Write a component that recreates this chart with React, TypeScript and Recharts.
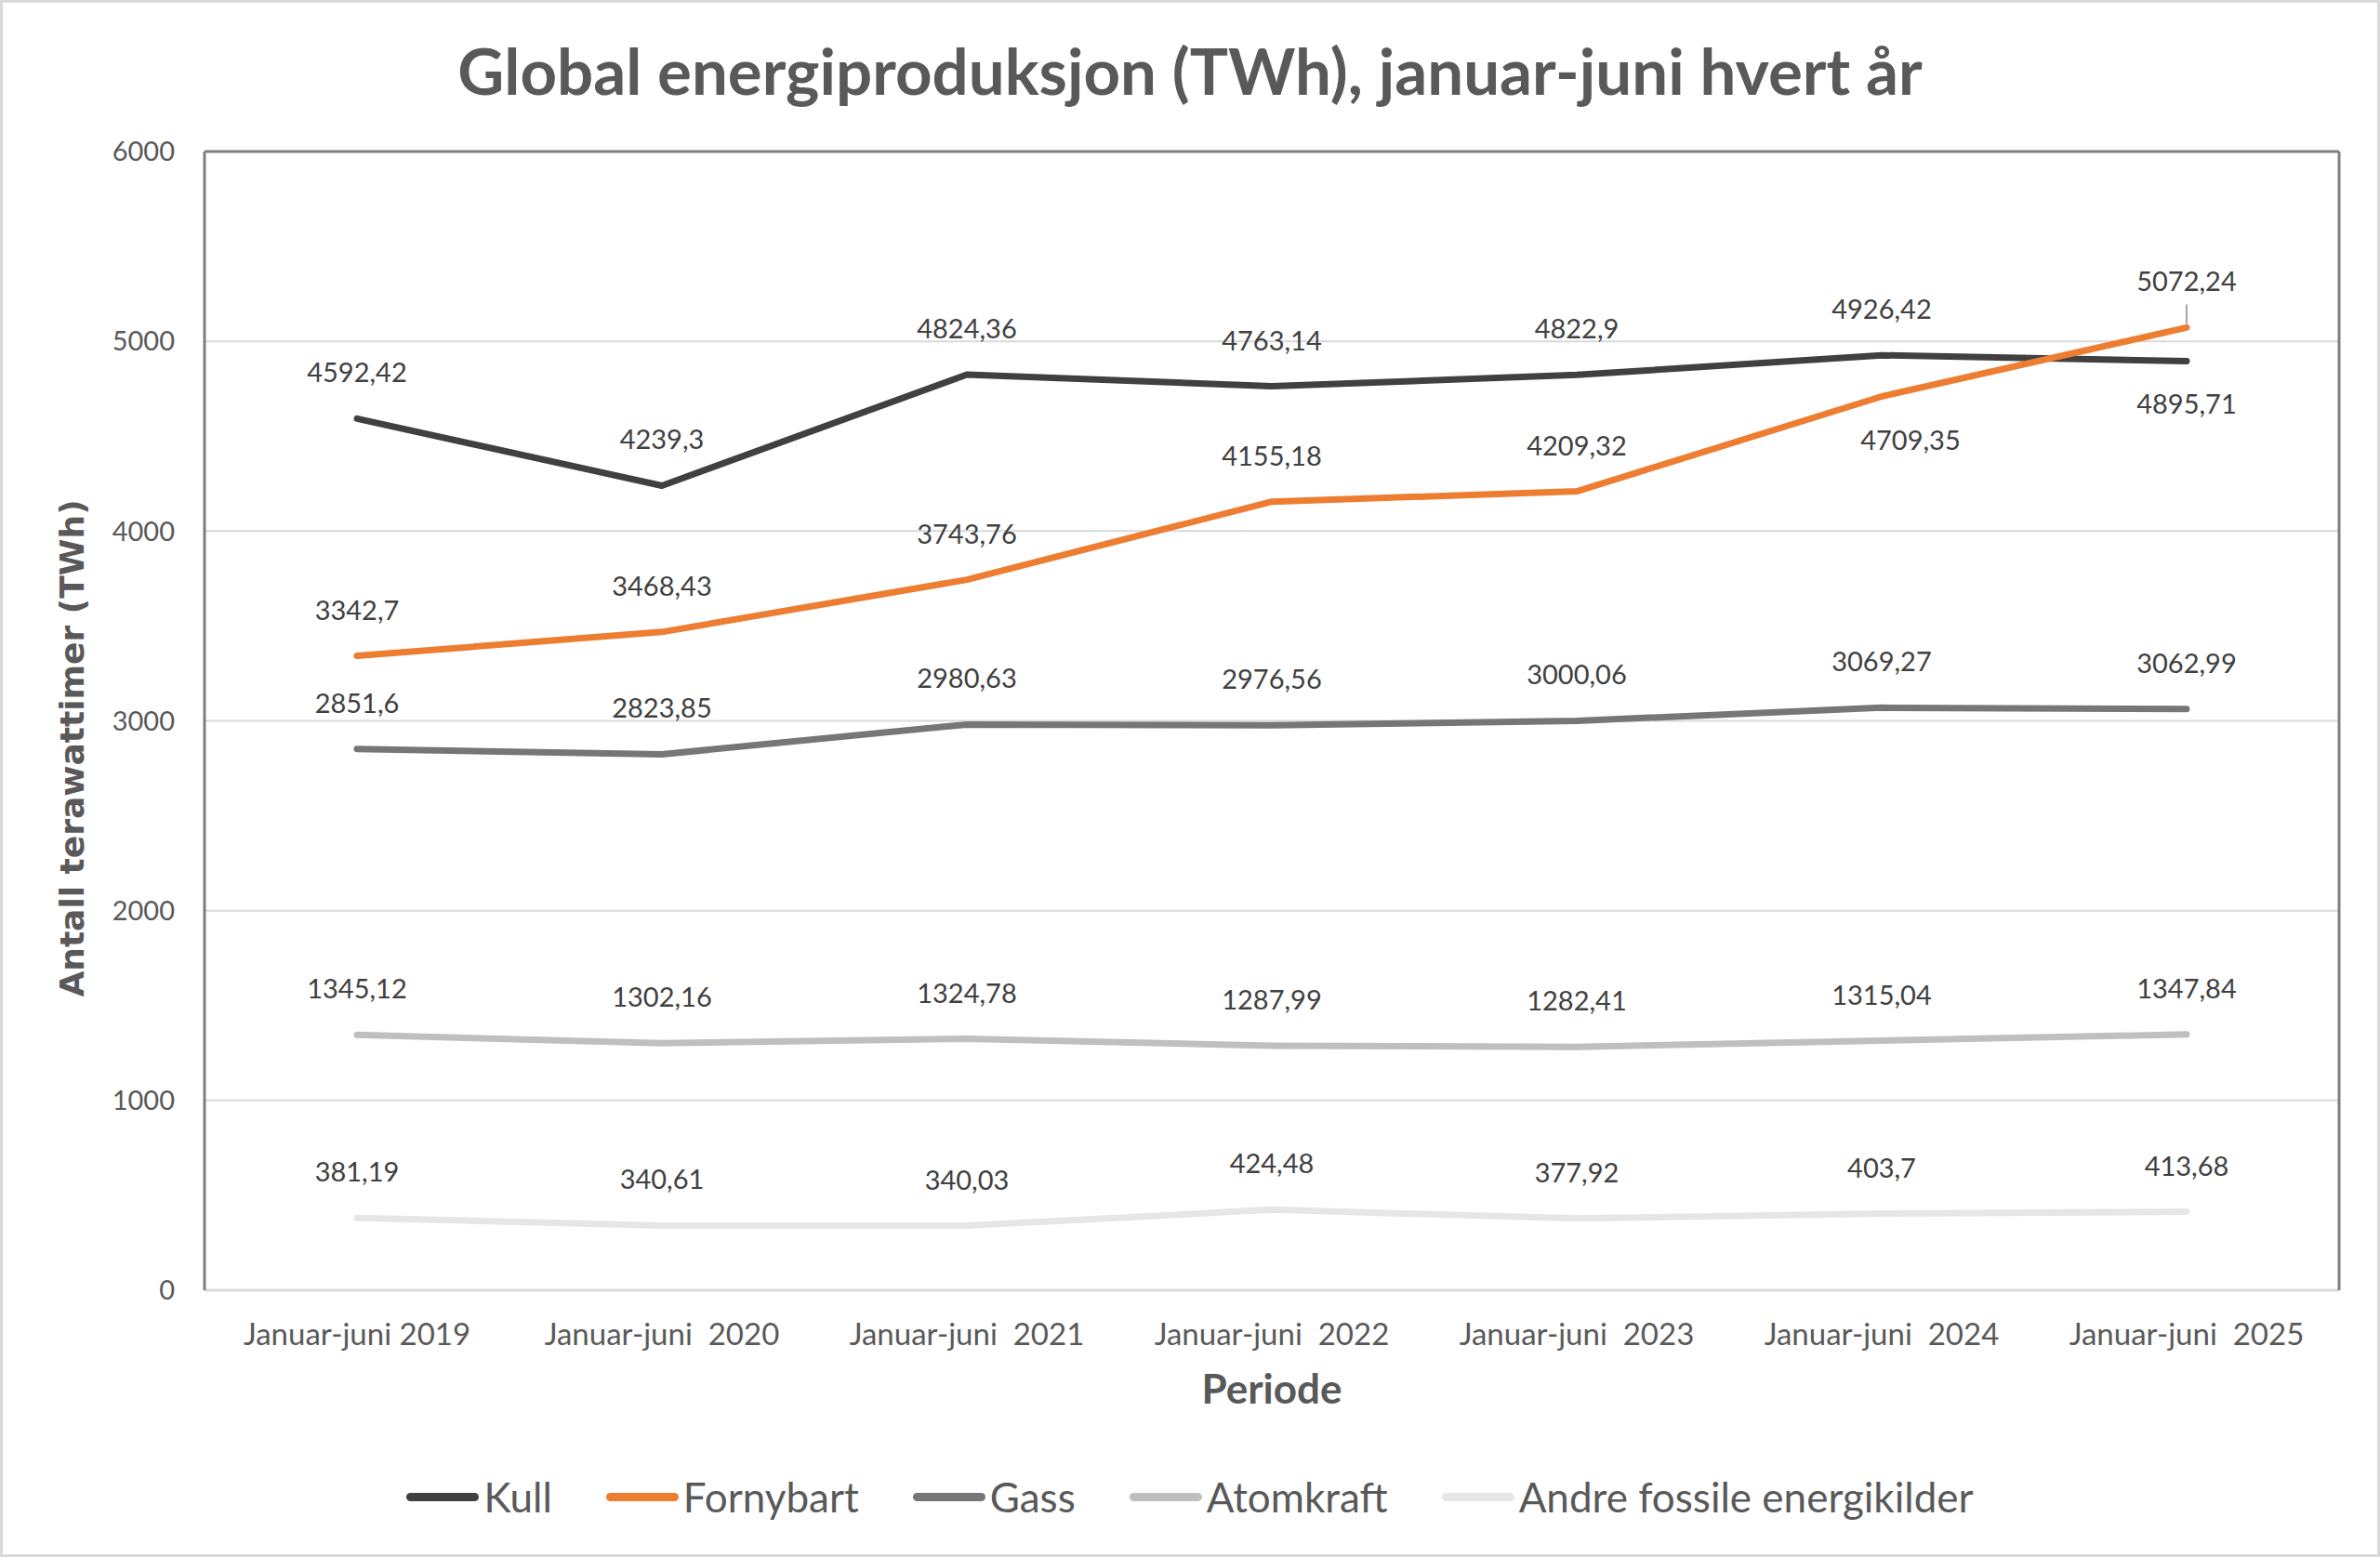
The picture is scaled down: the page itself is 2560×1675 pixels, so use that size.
import React from 'react';
import { CartesianGrid, Legend, LabelList, Line, LineChart, XAxis, YAxis } from 'recharts';

const perioder = [
  'Januar-juni 2019',
  'Januar-juni  2020',
  'Januar-juni  2021',
  'Januar-juni  2022',
  'Januar-juni  2023',
  'Januar-juni  2024',
  'Januar-juni  2025',
];

const kull = [4592.42, 4239.3, 4824.36, 4763.14, 4822.9, 4926.42, 4895.71];
const fornybart = [3342.7, 3468.43, 3743.76, 4155.18, 4209.32, 4709.35, 5072.24];
const gass = [2851.6, 2823.85, 2980.63, 2976.56, 3000.06, 3069.27, 3062.99];
const atomkraft = [1345.12, 1302.16, 1324.78, 1287.99, 1282.41, 1315.04, 1347.84];
const andre = [381.19, 340.61, 340.03, 424.48, 377.92, 403.7, 413.68];

const yTicks = [0, 1000, 2000, 3000, 4000, 5000, 6000];
const gridValues = [1000, 2000, 3000, 4000, 5000];

const series = [
  { key: 'kull', name: 'Kull', color: '#404040' },
  { key: 'fornybart', name: 'Fornybart', color: '#ED7D31' },
  { key: 'gass', name: 'Gass', color: '#767676' },
  { key: 'atomkraft', name: 'Atomkraft', color: '#BFBFBF' },
  { key: 'andre', name: 'Andre fossile energikilder', color: '#E7E6E6' },
];

const data = perioder.map((periode, i) => ({
  periode,
  kull: kull[i],
  fornybart: fornybart[i],
  gass: gass[i],
  atomkraft: atomkraft[i],
  andre: andre[i],
}));

// labels Excel put under the line, and the one with a leader line
const below: Record<string, number[]> = { kull: [6], fornybart: [5] };
const shifted: Record<string, number[]> = { fornybart: [5] };
const leader: Record<string, number[]> = { fornybart: [6] };

const fmt = (v: number) => String(v).replace('.', ',');

const textColor = '#595959';
const frame = '#7f7f7f';

const makeLabel = (key: string) => (props: any) => {
  const { x, y, value, index } = props;
  const isBelow = (below[key] || []).includes(index);
  const dx = (shifted[key] || []).includes(index) ? 31 : 0;
  const cy = isBelow ? y + 47 : y - 49;
  return (
    <g>
      {(leader[key] || []).includes(index) && (
        <line x1={x} y1={y - 4} x2={x} y2={y - 25} stroke="#a6a6a6" strokeWidth={2} />
      )}
      <text
        x={x + dx}
        y={cy + 10}
        textAnchor="middle"
        fontFamily="Lato"
        fontSize={29}
        fill="#404040"
      >
        {fmt(value)}
      </text>
    </g>
  );
};

const XTick = (props: any) => {
  const { x, y, payload } = props;
  return (
    <text
      x={x}
      y={y + 57}
      textAnchor="middle"
      fontFamily="Lato"
      fontSize={33}
      fill={textColor}
      style={{ whiteSpace: 'pre' }}
    >
      {payload.value}
    </text>
  );
};

const LegendContent = () => (
  <div
    style={{
      height: 100,
      display: 'flex',
      alignItems: 'center',
      justifyContent: 'center',
      gap: 58,
      fontFamily: 'Lato',
      fontSize: 44,
      color: textColor,
    }}
  >
    {series.map(s => (
      <div key={s.key} style={{ display: 'flex', alignItems: 'center', gap: 5 }}>
        <span style={{ width: 78, height: 9, borderRadius: 5, background: s.color, display: 'inline-block' }} />
        <span>{s.name}</span>
      </div>
    ))}
  </div>
);

export default function App() {
  return (
    <div style={{ position: 'absolute', left: 0, top: 0, width: 2560, height: 1675, background: '#fff' }}>
      <div
        style={{
          position: 'absolute',
          top: 34,
          left: 0,
          width: 2560,
          textAlign: 'center',
          fontFamily: 'Lato',
          fontWeight: 700,
          fontSize: 69,
          color: textColor,
          lineHeight: '84px',
        }}
      >
        Global energiproduksjon (TWh), januar-juni hvert år
      </div>
      <div style={{ position: 'absolute', left: 0, top: 0 }}>
        <LineChart width={2560} height={1675} data={data} margin={{ top: 162, right: 43, left: 100, bottom: 15 }}>
          <CartesianGrid vertical={false} horizontalValues={gridValues} stroke="#d9d9d9" strokeWidth={2} />
          <XAxis
            dataKey="periode"
            height={172}
            padding={{ left: 164, right: 164 }}
            tickLine={false}
            tickSize={0}
            tick={<XTick />}
            interval={0}
            axisLine={{ stroke: '#d9d9d9', strokeWidth: 3 }}
            label={{
              content: (p: any) => (
                <text
                  x={p.viewBox.x + p.viewBox.width / 2}
                  y={p.viewBox.y + 122}
                  textAnchor="middle"
                  fontFamily="Lato"
                  fontWeight={700}
                  fontSize={44}
                  fill={textColor}
                >
                  Periode
                </text>
              ),
            }}
          />
          <XAxis xAxisId="top" dataKey="periode" orientation="top" height={1} tick={false} tickLine={false} axisLine={{ stroke: frame, strokeWidth: 3 }} />
          <YAxis
            width={120}
            domain={[0, 6000]}
            ticks={yTicks}
            tickLine={false}
            tickSize={0}
            tickMargin={32}
            axisLine={{ stroke: frame, strokeWidth: 3 }}
            tick={{ fontFamily: 'Lato', fontSize: 29, fill: textColor }}
            label={{
              content: () => (
                <text
                  x={90}
                  y={805}
                  transform="rotate(-90 90 805)"
                  textAnchor="middle"
                  fontFamily="DejaVu Sans"
                  fontWeight={700}
                  fontSize={36}
                  fill={textColor}
                >
                  Antall terawattimer (TWh)
                </text>
              ),
            }}
          />
          <YAxis yAxisId="right" orientation="right" width={1} domain={[0, 6000]} tick={false} tickLine={false} axisLine={{ stroke: frame, strokeWidth: 3 }} />
          <Legend verticalAlign="bottom" wrapperStyle={{ left: 0, width: 2560 }} content={<LegendContent />} />
          {series.map(s => (
            <Line
              key={s.key}
              type="linear"
              dataKey={s.key}
              name={s.name}
              stroke={s.color}
              strokeWidth={7}
              strokeLinecap="round"
              strokeLinejoin="round"
              dot={false}
              activeDot={false}
              isAnimationActive={false}
            >
              <LabelList dataKey={s.key} content={makeLabel(s.key)} />
            </Line>
          ))}
        </LineChart>
      </div>
      <div
        style={{
          position: 'absolute',
          left: 0,
          top: 0,
          width: 2560,
          height: 1675,
          boxSizing: 'border-box',
          border: '3px solid #d9d9d9',
          pointerEvents: 'none',
        }}
      />
    </div>
  );
}
